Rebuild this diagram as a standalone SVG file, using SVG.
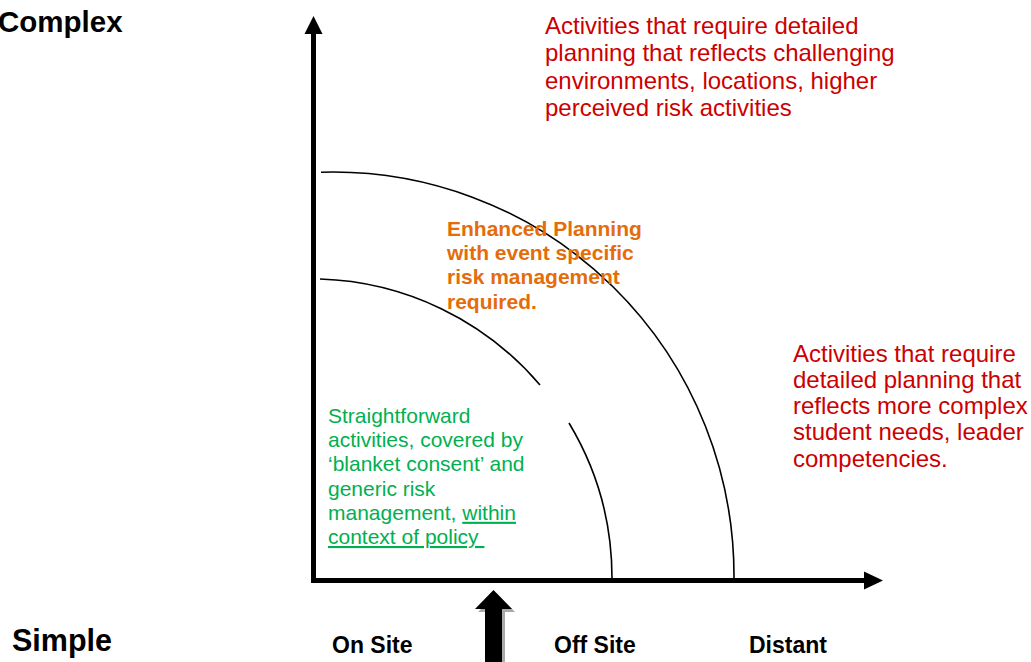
<svg xmlns="http://www.w3.org/2000/svg" width="1031" height="662" viewBox="0 0 1031 662">
<style>
text{font-family:"Liberation Sans",Arial,sans-serif}
.axis{stroke:#000;stroke-width:5;fill:none}
.arc{stroke:#000;stroke-width:1.6;fill:none}
.big{font-size:29.5px;font-weight:bold;fill:#000}
.lbl{font-size:23px;font-weight:bold;fill:#000}
.red{font-size:24px;fill:#CC0000}
.orange{font-size:21px;font-weight:bold;fill:#E46C0A}
.green{font-size:21px;fill:#00B050}
</style>
<rect width="1031" height="662" fill="#fff"/>
<g id="connectors">
  <g id="y-axis">
    <line class="axis" x1="313.5" y1="583" x2="313.5" y2="32"/>
    <polygon points="313.5,16 304.5,34 322.5,34" fill="#000"/>
  </g>
  <g id="x-axis">
    <line class="axis" x1="311" y1="580.5" x2="866" y2="580.5"/>
    <polygon points="883,580.5 864,571.5 864,589.5" fill="#000"/>
  </g>
  <g id="outer-arc">
    <path class="arc" d="M321,172.2 A401,404 0 0 1 734,578"/>
  </g>
  <g id="inner-arc">
    <path class="arc" d="M320,279 A301,301 0 0 1 540,385"/>
    <path class="arc" d="M569,423 A301,301 0 0 1 612,578"/>
  </g>
  <g id="block-arrow">
    <polygon points="496.5,593 515,612 505,612 505,665 488,665 488,612 478,612" fill="#aaaaaa"/>
    <polygon points="493.5,590 512,609 502,609 502,665 485,665 485,609 475,609" fill="#000"/>
  </g>
</g>
<g id="label-complex"><text class="big" x="-2" y="32">Complex</text></g>
<g id="label-simple"><text class="big" x="12" y="651" style="font-size:30.5px">Simple</text></g>
<g id="label-onsite"><text class="lbl" x="332" y="653">On Site</text></g>
<g id="label-offsite"><text class="lbl" x="554" y="653">Off Site</text></g>
<g id="label-distant"><text class="lbl" x="749" y="653">Distant</text></g>
<g id="text-top-red">
  <text class="red" x="545" y="33.5">Activities that require detailed</text>
  <text class="red" x="545" y="61">planning that reflects challenging</text>
  <text class="red" x="545" y="88.5">environments, locations, higher</text>
  <text class="red" x="545" y="116">perceived risk activities</text>
</g>
<g id="text-right-red">
  <text class="red" x="793" y="361.5">Activities that require</text>
  <text class="red" x="793" y="387.8">detailed planning that</text>
  <text class="red" x="793" y="414.1">reflects more complex</text>
  <text class="red" x="793" y="440.4">student needs, leader</text>
  <text class="red" x="793" y="466.7">competencies.</text>
</g>
<g id="text-enhanced">
  <text class="orange" x="447" y="236">Enhanced Planning</text>
  <text class="orange" x="447" y="260.2">with event specific</text>
  <text class="orange" x="447" y="284.4">risk management</text>
  <text class="orange" x="447" y="308.6">required.</text>
</g>
<g id="text-straightforward">
  <text class="green" x="328" y="423">Straightforward</text>
  <text class="green" x="328" y="447.2">activities, covered by</text>
  <text class="green" x="328" y="471.4">‘blanket consent’ and</text>
  <text class="green" x="328" y="495.6">generic risk</text>
  <text class="green" x="328" y="519.8" xml:space="preserve">management, <tspan text-decoration="underline">within</tspan></text>
  <text class="green" x="328" y="544" xml:space="preserve"><tspan text-decoration="underline">context of policy </tspan></text>
</g>
</svg>
